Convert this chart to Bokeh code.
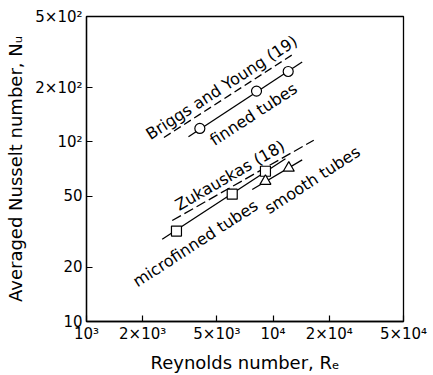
from bokeh.plotting import figure
from bokeh.models import FixedTicker
from bokeh.core.properties import value
from bokeh.embed import file_html
from bokeh.resources import INLINE
import math

# ---- data ----
x_ticks = [1e3, 2e3, 5e3, 1e4, 2e4, 5e4]
x_tick_labels = ["10³", "2×10³", "5×10³", "10⁴", "2×10⁴", "5×10⁴"]
y_ticks = [10, 20, 50, 100, 200, 500]
y_tick_labels = ["10", "20", "50", "10²", "2×10²", "5×10²"]

# finned tubes (circles) and their fitted line
finned_re = [4050, 8150, 12050]
finned_nu = [119, 192, 247]
finned_line_re = [3520, 14320]
finned_line_nu = [107, 279]

# Briggs and Young correlation (dashed)
briggs_re = [2600, 12800]
briggs_nu = [106, 308]

# Zukauskas correlation (dashed)
zuk_re = [2880, 16520]
zuk_nu = [36.5, 102.3]

# microfinned tubes (squares) and their line
micro_re = [3035, 6040, 9100]
micro_nu = [31.9, 51.2, 68.7]
micro_line_re = [2545, 11650]
micro_line_nu = [28.7, 80.7]

# smooth tubes (triangles) and their line
smooth_re = [9100, 12140]
smooth_nu = [60.5, 71.6]
smooth_line_re = [7730, 14320]
smooth_line_nu = [54.4, 79.5]

# annotations
label_text = ["Briggs and Young (19)", "finned tubes", "Zukauskas (18)",
              "microfinned tubes", "smooth tubes"]
label_re = [2123, 4677, 3036, 1808, 9200]
label_nu = [108.5, 100.6, 43.8, 16.4, 41.8]
label_deg = [33, 33, 30, 33, 33]

FONT = "DejaVu Sans"

p = figure(width=433, height=375, x_axis_type="log", y_axis_type="log",
           x_range=(1e3, 5e4), y_range=(10, 500),
           output_backend="svg", toolbar_location=None,
           min_border_left=86, min_border_right=30,
           min_border_top=16, min_border_bottom=49,
           background_fill_color="white", border_fill_color="white")

p.grid.visible = False
p.outline_line_color = "black"
p.outline_line_width = 1.3
p.outline_line_alpha = 1.0

for ax in (p.xaxis[0], p.yaxis[0]):
    ax.major_tick_in = 6
    ax.major_tick_out = 0
    ax.minor_tick_line_color = None
    ax.axis_line_width = 1.3
    ax.major_tick_line_width = 1.2
    ax.major_label_text_font = FONT
    ax.major_label_text_font_size = "15px"
    ax.major_label_text_color = "black"
    ax.axis_label_text_font = FONT
    ax.axis_label_text_font_size = "18px"
    ax.axis_label_text_font_style = "normal"
    ax.axis_label_text_color = "black"

p.xaxis.ticker = FixedTicker(ticks=x_ticks)
p.xaxis.major_label_overrides = {t: s for t, s in zip(x_ticks, x_tick_labels)}
p.yaxis.ticker = FixedTicker(ticks=y_ticks)
p.yaxis.major_label_overrides = {t: s for t, s in zip(y_ticks, y_tick_labels)}
p.xaxis.major_label_standoff = 3
p.yaxis.major_label_standoff = 4
p.xaxis.axis_label = "Reynolds number, Rₑ"
p.yaxis.axis_label = "Averaged Nusselt number, Nᵤ"
p.xaxis.axis_label_standoff = 6
p.yaxis.axis_label_standoff = 6

# lines
p.line(briggs_re, briggs_nu, line_color="black", line_width=1.3, line_dash="8 4")
p.line(zuk_re, zuk_nu, line_color="black", line_width=1.3, line_dash="10 4")
p.line(finned_line_re, finned_line_nu, line_color="black", line_width=1.3)
p.line(micro_line_re, micro_line_nu, line_color="black", line_width=1.3)
p.line(smooth_line_re, smooth_line_nu, line_color="black", line_width=1.3)

# markers
p.scatter(finned_re, finned_nu, marker="circle", size=10,
          fill_color="white", line_color="black", line_width=1.2)
p.scatter(micro_re, micro_nu, marker="square", size=10,
          fill_color="white", line_color="black", line_width=1.2)
p.scatter(smooth_re, smooth_nu, marker="triangle", size=11,
          fill_color="white", line_color="black", line_width=1.2)

# annotations
p.text(x=label_re, y=label_nu, text=label_text,
       angle=[math.radians(d) for d in label_deg],
       text_font=value(FONT), text_font_size="16px", text_color="black",
       text_align="left", text_baseline="alphabetic")

open("out.html", "w").write(file_html(p, INLINE))
